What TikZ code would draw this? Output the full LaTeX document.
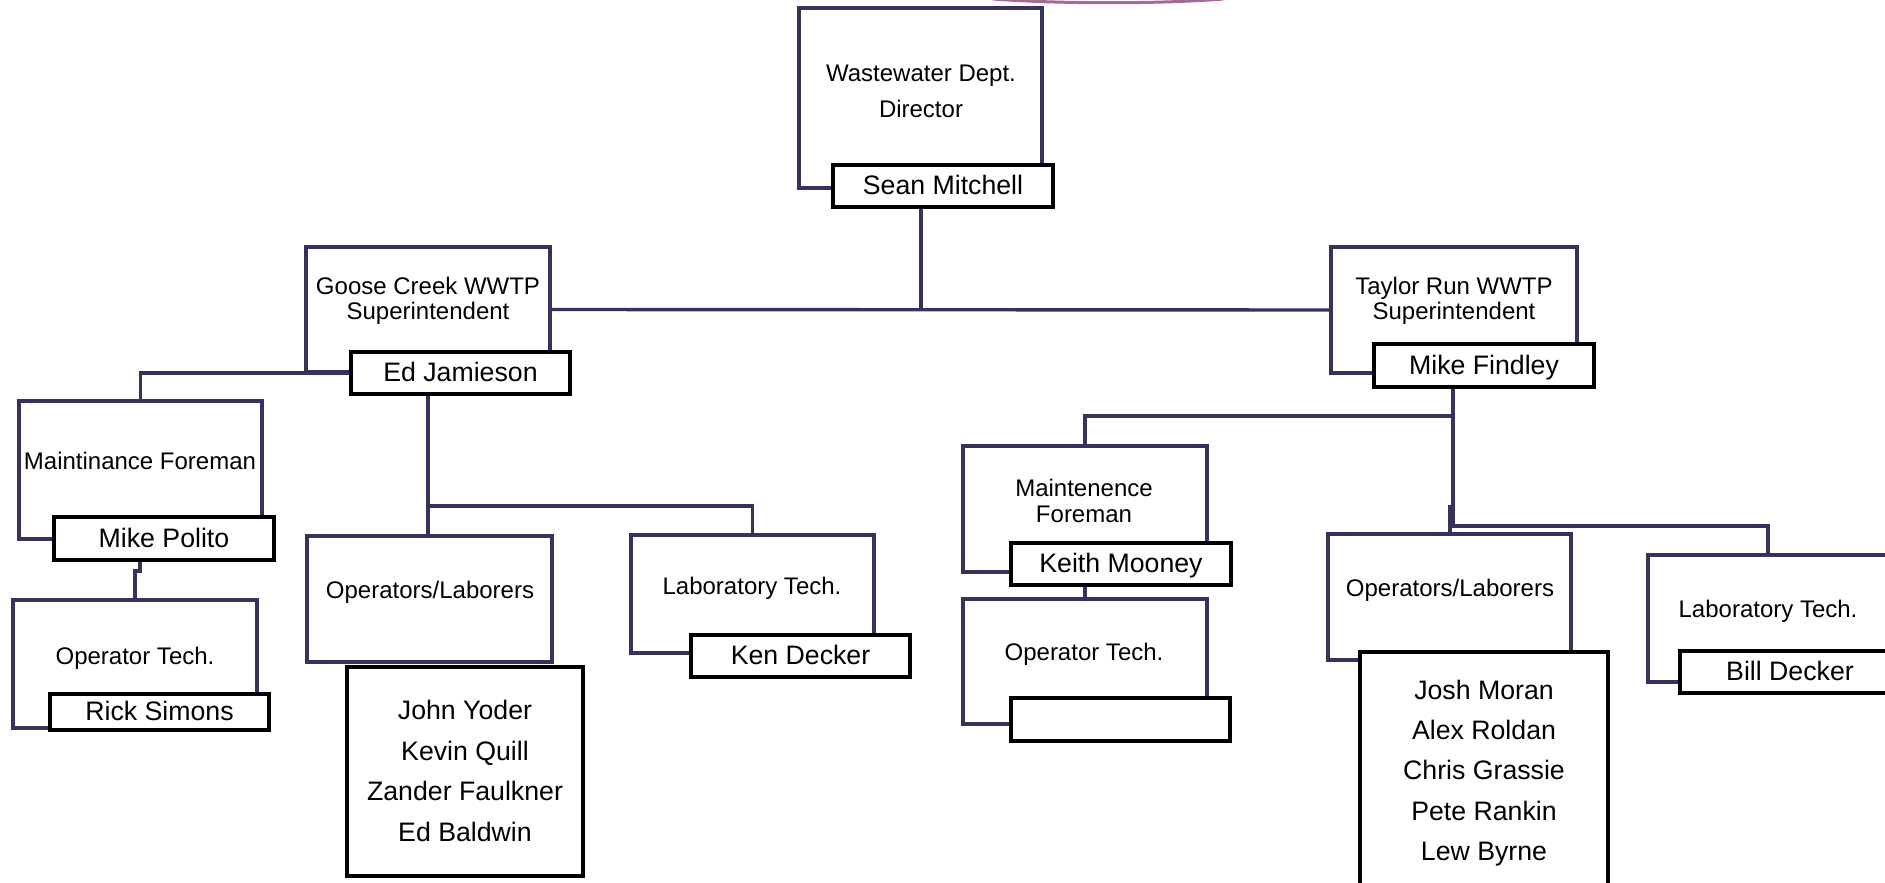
\documentclass[tikz,border=0pt]{standalone}
\usepackage{fontspec}
\setmainfont{Liberation Sans}
\usetikzlibrary{fit,calc}
\definecolor{linepurple}{RGB}{58,48,92}
\definecolor{arcmauve}{RGB}{165,105,150}
\pgfdeclarelayer{background}
\pgfsetlayers{background,main}
\begin{document}
\begin{tikzpicture}[x=0.5pt,y=-0.5pt,
  conn/.style={draw=linepurple, line width=1.7pt},
  titlebox/.style={draw=linepurple, line width=1.7pt, fill=white, inner sep=0pt, rectangle},
  namebox/.style={draw=black, line width=2pt, fill=white, inner sep=0pt, rectangle,
    font=\fontsize{13.35}{16}\selectfont, text height=0.86em, text depth=0pt},
  listbox/.style={draw=black, line width=2pt, fill=white, inner sep=0pt, rectangle,
    align=center, font=\fontsize{13.35}{20.2}\selectfont},
  ttl/.style={inner sep=0pt, align=center, font=\fontsize{12}{12.5}\selectfont}]
\useasboundingbox (0,0) rectangle (1885,883);

% faint arc at the top edge
\draw[arcmauve, line width=1.5pt] (993,-1) .. controls (1060,4) and (1160,4) .. (1223,-1);

% title boxes
\node[titlebox, fit={(799,8) (1042,188)}] (dirbox) {};
\node[titlebox, fit={(306,247) (550,372)}] (goosebox) {};
\node[titlebox, fit={(1331,247) (1577,373)}] (taylorbox) {};
\node[titlebox, fit={(19,401) (262,539)}] (maintL) {};
\node[titlebox, fit={(13,600) (257,728)}] (optechL) {};
\node[titlebox, fit={(307,536) (552,662)}] (opsL) {};
\node[titlebox, fit={(631,535) (874,653)}] (labL) {};
\node[titlebox, fit={(963,446) (1207,572)}] (maintR) {};
\node[titlebox, fit={(963,599) (1207,724)}] (optechR) {};
\node[titlebox, fit={(1328,534) (1571,660)}] (opsR) {};
\node[titlebox, fit={(1648,555) (1888,682)}] (labR) {};

% title texts
\node[ttl, font=\fontsize{12}{18}\selectfont] (dirT) at (921,91) {Wastewater Dept.\\Director};
\node[ttl] (gooseT) at (428,301) {Goose Creek WWTP\\Superintendent};
\node[ttl] (taylorT) at (1454,301) {Taylor Run WWTP\\Superintendent};
\node[ttl] (maintLT) at (140,461) {Maintinance Foreman};
\node[ttl] (optechLT) at (135,658) {Operator Tech.};
\node[ttl] (opsLT) at (430,592) {Operators/Laborers};
\node[ttl] (labLT) at (752,588) {Laboratory Tech.};
\node[ttl, font=\fontsize{12}{13}\selectfont] (maintRT) at (1084,501) {Maintenence\\Foreman};
\node[ttl] (optechRT) at (1084,654) {Operator Tech.};
\node[ttl] (opsRT) at (1450,590) {Operators/Laborers};
\node[ttl] (labRT) at (1768,611) {Laboratory Tech.};

% name boxes
\node[namebox, minimum width=110pt, minimum height=21pt] (sean) at (943,186) {Sean Mitchell};
\node[namebox, minimum width=109.5pt, minimum height=21pt] (ed) at (460.5,373) {Ed Jamieson};
\node[namebox, minimum width=110pt, minimum height=21.5pt] (findley) at (1484,365.5) {Mike Findley};
\node[namebox, minimum width=110pt, minimum height=21.5pt] (polito) at (164,538.5) {Mike Polito};
\node[namebox, minimum width=109.5pt, minimum height=18pt] (rick) at (159.5,712) {Rick Simons};
\node[namebox, minimum width=109.5pt, minimum height=21pt] (ken) at (800.5,656) {Ken Decker};
\node[namebox, minimum width=110pt, minimum height=21pt] (keith) at (1121,564) {Keith Mooney};
\node[namebox, minimum width=109.5pt, minimum height=21.5pt] (blankR) at (1120.5,719.5) {};
\node[namebox, minimum width=110pt, minimum height=21pt] (bill) at (1790,672) {Bill Decker};

% name lists
\node[listbox, minimum width=118pt, minimum height=104.5pt] (listL) at (465,771)
  {John Yoder\\Kevin Quill\\Zander Faulkner\\Ed Baldwin};
\node[listbox, minimum width=124pt, minimum height=121pt] (listR) at (1484,773)
  {Josh Moran\\Alex Roldan\\Chris Grassie\\Pete Rankin\\Lew Byrne};

% junction points
\coordinate (j1) at (921,310);
\coordinate (j2) at (428,506);
\coordinate (j3) at (140,571);
\coordinate (j4) at (1453,416);
\coordinate (j5) at (1453,526);
\coordinate (j6) at (1450,505);

\begin{pgfonlayer}{background}
\draw[conn] (sean.south -| j1) -- (j1);
\draw[conn] (goosebox.east) -- (taylorbox.west);
\draw[conn] (ed.west) -- (ed.west -| maintL.north) -- (maintL.north);
\draw[conn] (ed.south -| j2) -- (j2) -- (j2 -| labL.north) -- (labL.north);
\draw[conn] (j2) -- (j2 |- opsL.north);
\draw[conn] (polito.south -| j3) -- (j3) -- (j3 -| optechL.north) -- (optechL.north);
\draw[conn] (findley.south -| j4) -- (j5) -- (j5 -| labR.north) -- (labR.north);
\draw[conn] (j4) -- (j4 -| maintR.north) -- (maintR.north);
\draw[conn] (j6) -- (j6 |- opsR.north);
\draw[conn] (keith.south -| optechR.north) -- (optechR.north);
\end{pgfonlayer}
\end{tikzpicture}
\end{document}
